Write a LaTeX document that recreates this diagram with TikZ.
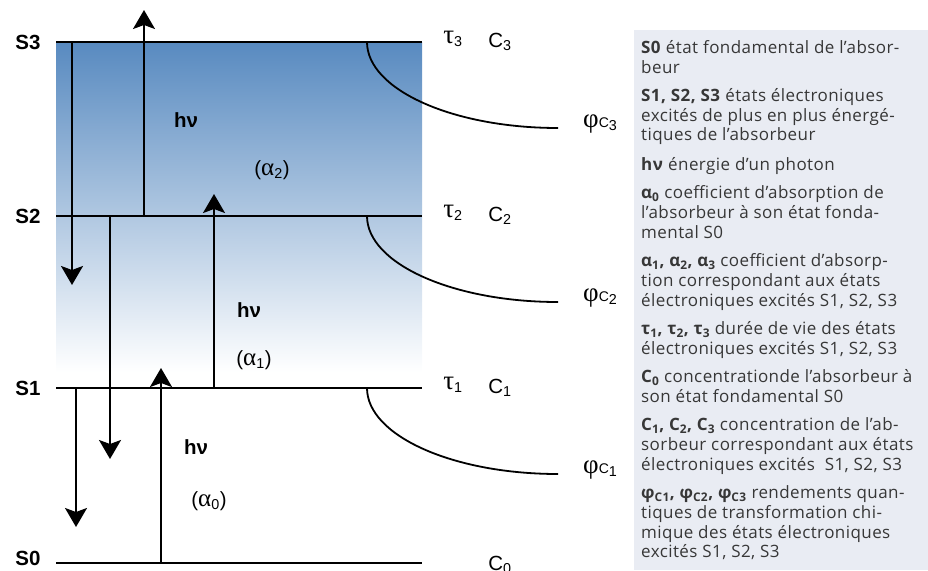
\documentclass[tikz,border=0pt]{standalone}
\usepackage{fontspec}
\setmainfont{Liberation Sans}
\newfontfamily\grk{Liberation Serif}
\newfontfamily\legfont{Open Sans}[LetterSpace=2.5]
\usetikzlibrary{arrows.meta,positioning}
\definecolor{levtop}{RGB}{88,138,192}
\definecolor{legbg}{RGB}{233,236,243}
\definecolor{legtxt}{RGB}{55,55,55}

\begin{document}
\begin{tikzpicture}[x=1pt,y=-1pt,
  node distance=9pt,
  level/.style={line width=2pt},
  trans/.style={line width=2pt,-{Stealth[length=19pt,width=22pt,inset=4pt]}},
  decay/.style={line width=1.8pt},
  lvl/.style={font=\fontsize{20.5}{22}\selectfont\bfseries,inner sep=0pt},
  lab/.style={font=\fontsize{20.5}{22}\selectfont,inner sep=0pt},
  legend/.style={font=\legfont\fontsize{17}{19.8}\selectfont,text=legtxt,align=left,inner sep=0pt,
    execute at begin node=\strut,execute at end node=\strut}]
  \useasboundingbox (0,0) rectangle (928,570);
  % blue band over the excited states
  \shade[top color=levtop,bottom color=white] (56,42) rectangle (422,372);
  \fill[legbg] (634,30) rectangle (928,570);

  % energy levels
  \foreach \n/\yy/\ly in {0/563/558,1/388/388,2/216/216,3/42/42}{
    \coordinate (L\n) at (56,\yy);
    \coordinate (R\n) at (422,\yy);
    \node[lvl] (S\n) at (28,\ly) {S\n};
    \draw[level] (L\n) -- (R\n);
  }
  \foreach \n/\yy in {1/388,2/216,3/42}{
    \node[lab] (tau\n) at (453,\yy-3) {{\grk\fontsize{27}{28}\selectfont τ}\textsubscript{\n}};
    \node[lab] (C\n) at (500,\yy) {C\textsubscript{\n}};
    \coordinate (k\n) at (367,\yy);
    \draw[decay] (k\n) arc[start angle=180,end angle=90,x radius=191,y radius=86] coordinate (p\n);
    \node[lab,anchor=west] (phi\n) at ([shift={(25,-4)}]p\n) {{\grk\fontsize{27}{28}\selectfont φ}{\fontsize{14}{15}\selectfont C}\textsubscript{\n}};
  }
  \node[lab] (C0) at (500,565) {C\textsubscript{0}};

  % transitions
  \coordinate (d3) at (72,285);
  \coordinate (u2) at (144,10);
  \coordinate (d2) at (110,459);
  \coordinate (u1) at (214,194);
  \coordinate (d1) at (76,527);
  \coordinate (u0) at (161,368);
  \draw[trans] (d3 |- L3) -- (d3);
  \draw[trans] (u2 |- L2) -- (u2);
  \draw[trans] (d2 |- L2) -- (d2);
  \draw[trans] (u1 |- L1) -- (u1);
  \draw[trans] (d1 |- L1) -- (d1);
  \draw[trans] (u0 |- L0) -- (u0);

  \node[lvl] (hv2) at (186,120) {hν};
  \node[lab] (al2) at (272,170) {({\grk\fontsize{25}{26}\selectfont α}\textsubscript{2})};
  \node[lvl] (hv1) at (249,310) {hν};
  \node[lab] (al1) at (254,360) {({\grk\fontsize{25}{26}\selectfont α}\textsubscript{1})};
  \node[lvl] (hv0) at (196,447) {hν};
  \node[lab] (al0) at (209,501) {({\grk\fontsize{25}{26}\selectfont α}\textsubscript{0})};

  % legend
  \node[legend,anchor=north west] (e0) at (641,40) {\textbf{S0} état fondamental de l’absor-\\beur};
  \node[legend,below=of e0.south west,anchor=north west] (e1) {\textbf{S1, S2, S3} états électroniques\\excités de plus en plus énergé-\\tiques de l’absorbeur};
  \node[legend,below=of e1.south west,anchor=north west] (e2) {\textbf{hν} énergie d’un photon};
  \node[legend,below=of e2.south west,anchor=north west] (e3) {\textbf{α\textsubscript{0}} coefficient d’absorption de\\l’absorbeur à son état fonda-\\mental S0};
  \node[legend,below=of e3.south west,anchor=north west] (e4) {\textbf{α\textsubscript{1}, α\textsubscript{2}, α\textsubscript{3}} coefficient d’absorp-\\tion correspondant aux états\\électroniques excités S1, S2, S3};
  \node[legend,below=of e4.south west,anchor=north west] (e5) {\textbf{τ\textsubscript{1}, τ\textsubscript{2}, τ\textsubscript{3}} durée de vie des états\\électroniques excités S1, S2, S3};
  \node[legend,below=of e5.south west,anchor=north west] (e6) {\textbf{C\textsubscript{0}} concentrationde l’absorbeur à\\son état fondamental S0};
  \node[legend,below=of e6.south west,anchor=north west] (e7) {\textbf{C\textsubscript{1}, C\textsubscript{2}, C\textsubscript{3}} concentration de l’ab-\\sorbeur correspondant aux états\\électroniques excités\ \ S1, S2, S3};
  \node[legend,below=of e7.south west,anchor=north west] (e8) {\textbf{φ\textsubscript{C1}, φ\textsubscript{C2}, φ\textsubscript{C3}} rendements quan-\\tiques de transformation chi-\\mique des états électroniques\\excités S1, S2, S3};
\end{tikzpicture}
\end{document}
